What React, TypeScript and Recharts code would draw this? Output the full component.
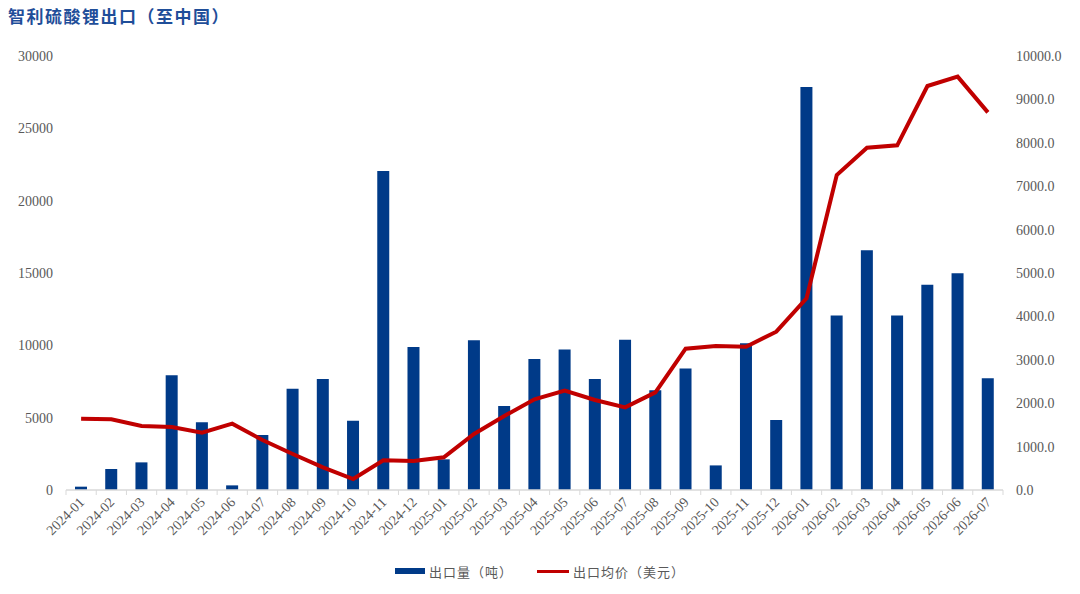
import React from "react";
import {
  ComposedChart, Bar, Line, XAxis, YAxis, Legend
} from "recharts";

const months = [
  "2024-01", "2024-02", "2024-03", "2024-04", "2024-05", "2024-06", "2024-07", "2024-08",
  "2024-09", "2024-10", "2024-11", "2024-12", "2025-01", "2025-02", "2025-03", "2025-04",
  "2025-05", "2025-06", "2025-07", "2025-08", "2025-09", "2025-10", "2025-11", "2025-12",
  "2026-01", "2026-02", "2026-03", "2026-04", "2026-05", "2026-06", "2026-07",
];

// 出口量（吨）
const volume = [
  230, 1450, 1910, 7930, 4680, 320, 3800, 7000, 7670, 4790, 22050, 9885, 2120, 10350, 5810, 9060,
  9720, 7670, 10390, 6890, 8390, 1700, 10140, 4840, 27860, 12070, 16570, 12070, 14190, 14980, 7720,
];

// 出口均价（美元）
const price = [
  1643, 1628, 1475, 1452, 1320, 1528, 1152, 830, 523, 253, 684, 668, 753, 1290, 1705, 2090,
  2288, 2074, 1905, 2250, 3256, 3318, 3302, 3648, 4417, 7258, 7888, 7942, 9309, 9524, 8702,
];

const leftTicks = [0, 5000, 10000, 15000, 20000, 25000, 30000];
const rightTicks = [0, 1000, 2000, 3000, 4000, 5000, 6000, 7000, 8000, 9000, 10000];

const data = months.map((m, i) => ({ month: m, volume: volume[i], price: price[i] }));

const BLUE = "#003A88";
const RED = "#C00000";
const GREY = "#595959";
const SERIF = "'Liberation Serif', 'Times New Roman', serif";
const CJK = "'Noto Sans CJK SC', sans-serif";

const W = 1080;
const H = 594;
const LEFT_W = 66;
const RIGHT_W = 77;
const BAND = (W - LEFT_W - RIGHT_W) / months.length;

function MonthTick(props: any) {
  const { x, y, payload, index } = props;
  const tx = x + 4;
  const ty = y + 13;
  return (
    <g>
      <line x1={x - BAND / 2} y1={y} x2={x - BAND / 2} y2={y + 5} stroke="#d9d9d9" />
      {index === months.length - 1 && (
        <line x1={x + BAND / 2} y1={y} x2={x + BAND / 2} y2={y + 5} stroke="#d9d9d9" />
      )}
      <text
        x={tx}
        y={ty}
        textAnchor="end"
        fill={GREY}
        fontSize={14}
        fontFamily={SERIF}
        transform={`rotate(-45 ${tx} ${ty})`}
      >
        {payload.value}
      </text>
    </g>
  );
}

function LegendBox() {
  const text = { fontFamily: CJK, fontSize: 13, color: GREY, letterSpacing: 1 };
  return (
    <div style={{ display: "flex", justifyContent: "center", alignItems: "center", height: 40, marginTop: -3 }}>
      <span style={{ display: "inline-block", width: 30, height: 6, background: BLUE, marginRight: 4 }} />
      <span style={text}>出口量（吨）</span>
      <span style={{ display: "inline-block", width: 32, height: 3, background: RED, marginLeft: 24, marginRight: 4 }} />
      <span style={text}>出口均价（美元）</span>
    </div>
  );
}

export default function App() {
  return (
    <div style={{ position: "absolute", left: 0, top: 0, width: W, height: H, background: "#fff" }}>
      <div
        style={{
          position: "absolute", left: 8, top: 3, fontFamily: CJK, fontWeight: 700,
          fontSize: 17, color: "#1F4E99", letterSpacing: 1.5, zIndex: 2,
        }}
      >
        智利硫酸锂出口（至中国）
      </div>
      <ComposedChart
        width={W}
        height={H}
        data={data}
        margin={{ top: 56, right: 0, bottom: 0, left: 0 }}
        barCategoryGap={0}
      >
        <XAxis
          dataKey="month"
          interval={0}
          height={64}
          axisLine={{ stroke: "#d9d9d9", strokeWidth: 1.5 }}
          tickLine={false}
          tickSize={0}
          tickMargin={0}
          tick={<MonthTick />}
        />
        <YAxis
          yAxisId="left"
          width={LEFT_W}
          domain={[0, 30000]}
          ticks={leftTicks}
          axisLine={false}
          tickLine={false}
          tickMargin={7}
          tick={{ fill: GREY, fontSize: 14, fontFamily: SERIF }}
        />
        <YAxis
          yAxisId="right"
          orientation="right"
          width={RIGHT_W}
          domain={[0, 10000]}
          ticks={rightTicks}
          axisLine={false}
          tickLine={false}
          tickMargin={7}
          tickFormatter={(v: number) => v.toFixed(1)}
          tick={{ fill: GREY, fontSize: 14, fontFamily: SERIF }}
        />
        <Legend verticalAlign="bottom" height={40} content={() => <LegendBox />} />
        <Bar
          yAxisId="left"
          dataKey="volume"
          name="出口量（吨）"
          fill={BLUE}
          barSize={12}
          isAnimationActive={false}
        />
        <Line
          yAxisId="right"
          dataKey="price"
          name="出口均价（美元）"
          type="linear"
          stroke={RED}
          strokeWidth={4}
          dot={false}
          activeDot={false}
          isAnimationActive={false}
        />
      </ComposedChart>
    </div>
  );
}
